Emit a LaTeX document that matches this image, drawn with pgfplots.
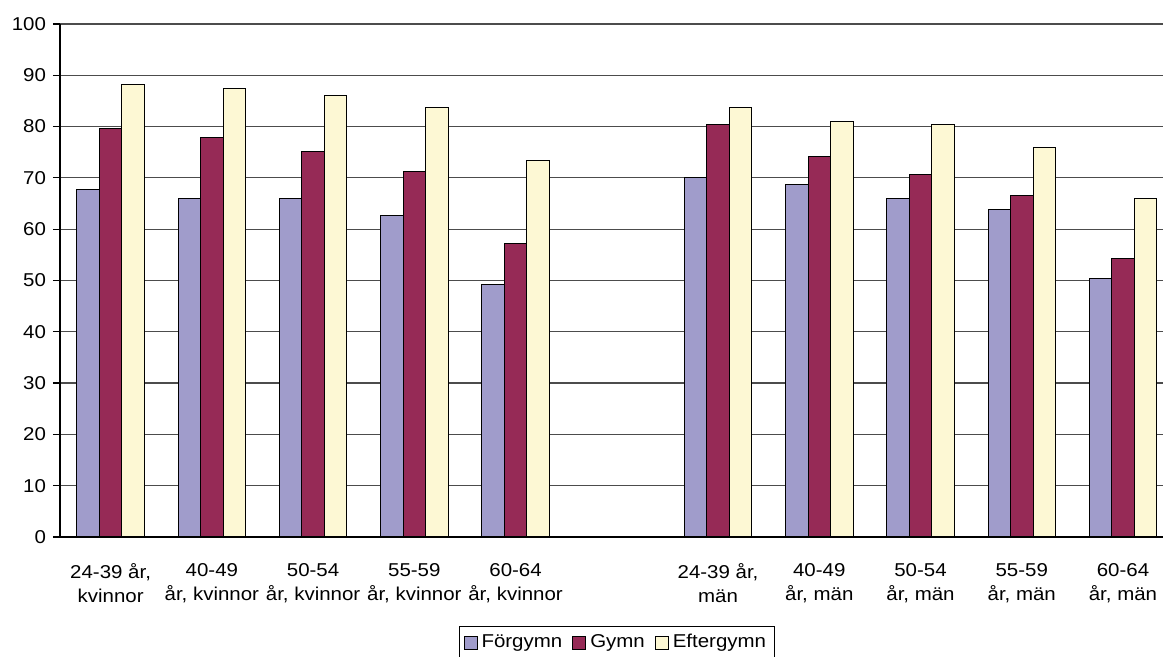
\documentclass[border=0pt]{standalone}
\usepackage{fontspec}
\setmainfont{Liberation Sans}[FakeStretch=1.1]
\usepackage{pgfplots}
\pgfplotsset{compat=1.18}

\definecolor{forg}{RGB}{160,156,203}
\definecolor{gymn}{RGB}{150,42,86}
\definecolor{efter}{RGB}{253,248,212}

\begin{document}
\begin{tikzpicture}
\begin{axis}[
  at={(30pt,60pt)}, anchor=south west,
  scale only axis, width=556.8pt, height=256.5pt,
  ybar=0pt, bar width=11.25pt,
  xmin=-0.5, xmax=10.5, ymin=0, ymax=100,
  xtick={0,...,10},
  xticklabels={{24-39 år,\\kvinnor},{40-49\\år, kvinnor},{50-54\\år, kvinnor},{55-59\\år, kvinnor},{60-64\\år, kvinnor},{},{24-39 år,\\män},{40-49\\år, män},{50-54\\år, män},{55-59\\år, män},{60-64\\år, män}},
  ytick={0,10,...,100},
  axis x line*=bottom, axis y line*=left,
  axis line style={-, black, line width=0.6pt},
  tick align=outside,
  xtick style={draw=none},
  ytick style={black, line width=0.6pt},
  major tick length=3.5pt,
  ymajorgrids,
  major grid style={black!70, line width=0.6pt},
  /pgf/number format/assume math mode=true,
  yticklabel style={font=\fontsize{9.3}{11}\selectfont},
  xticklabel style={align=center, font=\fontsize{9.3}{12}\selectfont, yshift=-6pt},
  legend style={at={(0.5,-0.1735)}, anchor=north, legend columns=3,
    draw=black, line width=0.5pt, font=\fontsize{9.3}{11}\selectfont,
    inner sep=2pt,
    /tikz/every even column/.append style={column sep=3pt}},
  legend image code/.code={\draw[#1, draw=black, line width=0.5pt] (0pt,-3.2pt) rectangle (6.5pt,3.2pt);},
  every axis plot/.append style={draw=black, line width=0.5pt},
]
% Förgymn
\addplot[fill=forg] coordinates {(0,67.7) (1,66.0) (2,66.0) (3,62.7) (4,49.3)
  (6,70.1) (7,68.8) (8,66.0) (9,63.8) (10,50.4)};
% Gymn
\addplot[fill=gymn] coordinates {(0,79.7) (1,77.8) (2,75.1) (3,71.2) (4,57.3)
  (6,80.5) (7,74.2) (8,70.6) (9,66.5) (10,54.3)};
% Eftergymn
\addplot[fill=efter] coordinates {(0,88.2) (1,87.4) (2,86.0) (3,83.8) (4,73.4)
  (6,83.8) (7,81.0) (8,80.5) (9,75.9) (10,66.0)};
\legend{Förgymn, Gymn, Eftergymn}
\end{axis}
\pgfresetboundingbox
\path[use as bounding box] (0,0) rectangle (581.5pt,328.5pt);
\end{tikzpicture}
\end{document}
